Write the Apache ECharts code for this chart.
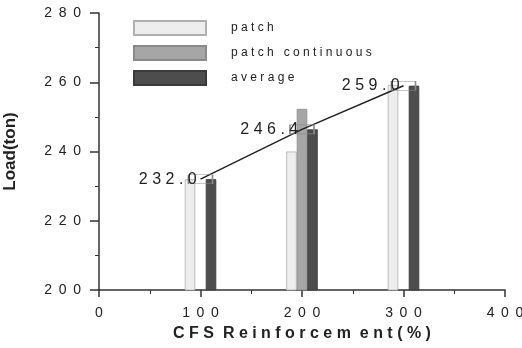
<!DOCTYPE html>
<html>
<head>
<meta charset="utf-8">
<script src="https://cdn.jsdelivr.net/npm/echarts@6/dist/echarts.min.js"></script>
<style>
  html, body { margin: 0; padding: 0; background: #fff; }
  #chart { width: 522px; height: 348px; }
</style>
</head>
<body>
<div id="chart"></div>
<script>
// Reinforcement levels (%) and measured loads (ton)
var reinforcement = [100, 200, 300];
var patchLoad = [232.0, 240.0, 259.2];
var patchContinuousLoad = [null, 252.3, null];
var averageLoad = [232.0, 246.4, 259.0];

var seriesNames = ['patch', 'patch continuous', 'average'];

// Spread letters apart the way the printed labels are set
function spaced(s, gap) {
  return String(s).split('').join(gap === undefined ? ' ' : gap);
}

function pairs(values) {
  return reinforcement.map(function (x, i) { return [x, values[i]]; });
}

var chart = echarts.init(document.getElementById('chart'));
var font = 'Liberation Sans, Arial, Helvetica, sans-serif';

chart.setOption({
  backgroundColor: '#ffffff',
  animation: false,
  grid: { left: 99, right: 17, top: 13, bottom: 58, outerBoundsMode: 'none', containLabel: false },
  legend: {
    data: seriesNames,
    orient: 'vertical',
    left: 128,
    top: 15,
    itemWidth: 72,
    itemHeight: 14,
    itemGap: 9,
    icon: 'rect',
    formatter: function (name) { return spaced(name); },
    textStyle: { fontFamily: font, fontSize: 12, color: '#222', padding: [0, 0, 0, 20] }
  },
  xAxis: {
    type: 'value',
    min: 0,
    max: 400,
    interval: 100,
    name: 'C F S  R e i n f o r c e m  e n t ( % )',
    nameLocation: 'middle',
    nameGap: 36,
    nameTextStyle: { fontFamily: font, fontSize: 16, fontWeight: 'bold', color: '#222' },
    axisLine: { lineStyle: { color: '#333', width: 1.5 } },
    axisTick: { length: 7, lineStyle: { color: '#333', width: 1.5 } },
    minorTick: { show: true, splitNumber: 2, length: 4, lineStyle: { color: '#333', width: 1 } },
    splitLine: { show: false },
    axisLabel: {
      margin: 16,
      fontFamily: font, fontSize: 14, color: '#222',
      formatter: function (v) { return spaced(v, ' \u2009'); }
    }
  },
  yAxis: {
    type: 'value',
    min: 200,
    max: 280,
    interval: 20,
    name: 'Load(ton)',
    nameLocation: 'middle',
    nameGap: 80,
    nameTextStyle: { fontFamily: font, fontSize: 17, fontWeight: 'bold', color: '#222' },
    axisLine: { show: true, lineStyle: { color: '#333', width: 1.5 } },
    axisTick: { length: 9, lineStyle: { color: '#333', width: 1.5 } },
    minorTick: { show: true, splitNumber: 2, length: 4, lineStyle: { color: '#333', width: 1 } },
    splitLine: { show: false },
    axisLabel: {
      margin: 18,
      fontFamily: font, fontSize: 14, color: '#222',
      formatter: function (v) { return spaced(v, ' \u2009'); }
    }
  },
  series: [
    {
      name: 'patch',
      type: 'bar',
      barWidth: 10.5,
      barGap: '0%',
      data: pairs(patchLoad),
      itemStyle: { color: '#ededed', borderColor: '#b0b0b0', borderWidth: 0.8 }
    },
    {
      name: 'patch continuous',
      type: 'bar',
      barWidth: 10.5,
      barGap: '0%',
      data: pairs(patchContinuousLoad),
      itemStyle: { color: '#a6a6a6', borderColor: '#8a8a8a', borderWidth: 0.8 }
    },
    {
      name: 'average',
      type: 'bar',
      barWidth: 10.5,
      barGap: '0%',
      data: pairs(averageLoad),
      itemStyle: { color: '#4d4d4d', borderColor: '#3a3a3a', borderWidth: 0.8 }
    },
    {
      name: 'average trend',
      type: 'line',
      data: pairs(averageLoad),
      z: 5,
      symbol: 'rect',
      symbolSize: [24, 9],
      itemStyle: { color: 'rgba(255,255,255,0)', borderColor: '#8c8c8c', borderWidth: 1 },
      lineStyle: { color: '#222', width: 1.5 },
      label: {
        show: true,
        position: 'left',
        distance: -9,
        fontFamily: font,
        fontSize: 16,
        color: '#222',
        formatter: function (p) { return spaced(p.value[1].toFixed(1)); }
      }
    }
  ]
});
</script>
</body>
</html>
